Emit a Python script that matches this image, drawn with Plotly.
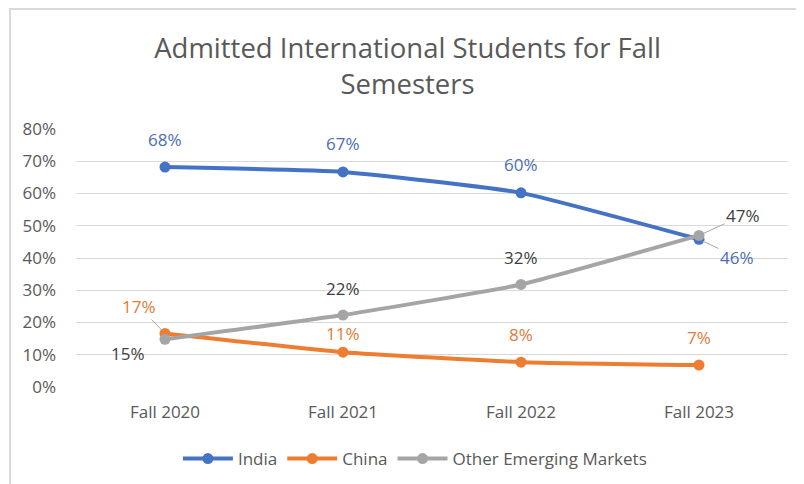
import plotly.graph_objects as go

categories = ["Fall 2020", "Fall 2021", "Fall 2022", "Fall 2023"]
india = [0.682, 0.667, 0.602, 0.458]
china = [0.166, 0.108, 0.077, 0.068]
other = [0.148, 0.223, 0.318, 0.470]
y_ticks = [0, 0.1, 0.2, 0.3, 0.4, 0.5, 0.6, 0.7, 0.8]

series = [
    ("India", india, "#4472C4", "#4A6EB5"),
    ("China", china, "#ED7D31", "#E07B39"),
    ("Other Emerging Markets", other, "#A5A5A5", "#404040"),
]

# label offsets (pixels) per point: (xshift, yshift, leader)
offsets = {
    "India": [(0, 28, False), (0, 28, False), (0, 28, False), (38, -18, True)],
    "China": [(-26, 27, True), (0, 19, False), (0, 28, False), (0, 28, False)],
    "Other Emerging Markets": [(-37, -14, False), (0, 27, False), (0, 27, False), (44, 20, True)],
}

FONT = "Open Sans"
FS = 17
fig = go.Figure()
for name, vals, col, lcol in series:
    fig.add_trace(go.Scatter(
        x=categories, y=vals, name=name, mode="lines+markers",
        line=dict(color=col, width=4, shape="spline", smoothing=0.4),
        marker=dict(color=col, size=11),
    ))

annotations = []
for name, vals, col, lcol in series:
    for i, v in enumerate(vals):
        dx, dy, leader = offsets[name][i]
        txt = f"{round(v * 100):d}%"
        if leader:
            annotations.append(dict(
                x=categories[i], y=v, xref="x", yref="y", text=txt,
                showarrow=True, ax=dx, ay=-dy, arrowhead=0, arrowwidth=1,
                arrowcolor="#A5A5A5", standoff=4,
                font=dict(family=FONT, size=FS, color=lcol),
            ))
        else:
            annotations.append(dict(
                x=categories[i], y=v, xref="x", yref="y", text=txt,
                showarrow=False, xshift=dx, yshift=dy,
                font=dict(family=FONT, size=FS, color=lcol),
            ))

W, H = 796, 476
fig.update_layout(
    width=W, height=H,
    margin=dict(l=68, r=16, t=121, b=97, autoexpand=False),
    paper_bgcolor="white", plot_bgcolor="white",
    title=dict(
        text="Admitted International Students for Fall<br>Semesters",
        x=0.502, xanchor="center", y=0.895, yanchor="middle",
        font=dict(family=FONT, size=27.5, color="#595959"),
    ),
    font=dict(family=FONT, size=FS, color="#595959"),
    xaxis=dict(
        range=[-0.5, 3.5], automargin=False,
        showgrid=False, showline=False, zeroline=False, ticks="",
        tickfont=dict(family=FONT, size=FS, color="#595959"),
        ticklabelstandoff=13,
    ),
    yaxis=dict(
        range=[0, 0.8], tickvals=y_ticks, tickformat=".0%", automargin=False,
        showgrid=True, gridcolor="#D9D9D9", gridwidth=1,
        zeroline=False, showline=False, ticks="",
        tickfont=dict(family=FONT, size=FS, color="#595959"),
        ticklabelstandoff=19,
    ),
    legend=dict(
        orientation="h", x=0.476, xanchor="center", y=-0.279, yanchor="middle",
        font=dict(family=FONT, size=FS, color="#595959"),
        itemwidth=50,
    ),
    annotations=annotations,
    shapes=[dict(
        type="rect", xref="paper", yref="paper",
        x0=-66 / 712, x1=1.2, y0=-0.6, y1=1 + 120 / 258,
        line=dict(color="#D9D9D9", width=2), layer="below",
    )],
)

fig.write_html("out.html")
